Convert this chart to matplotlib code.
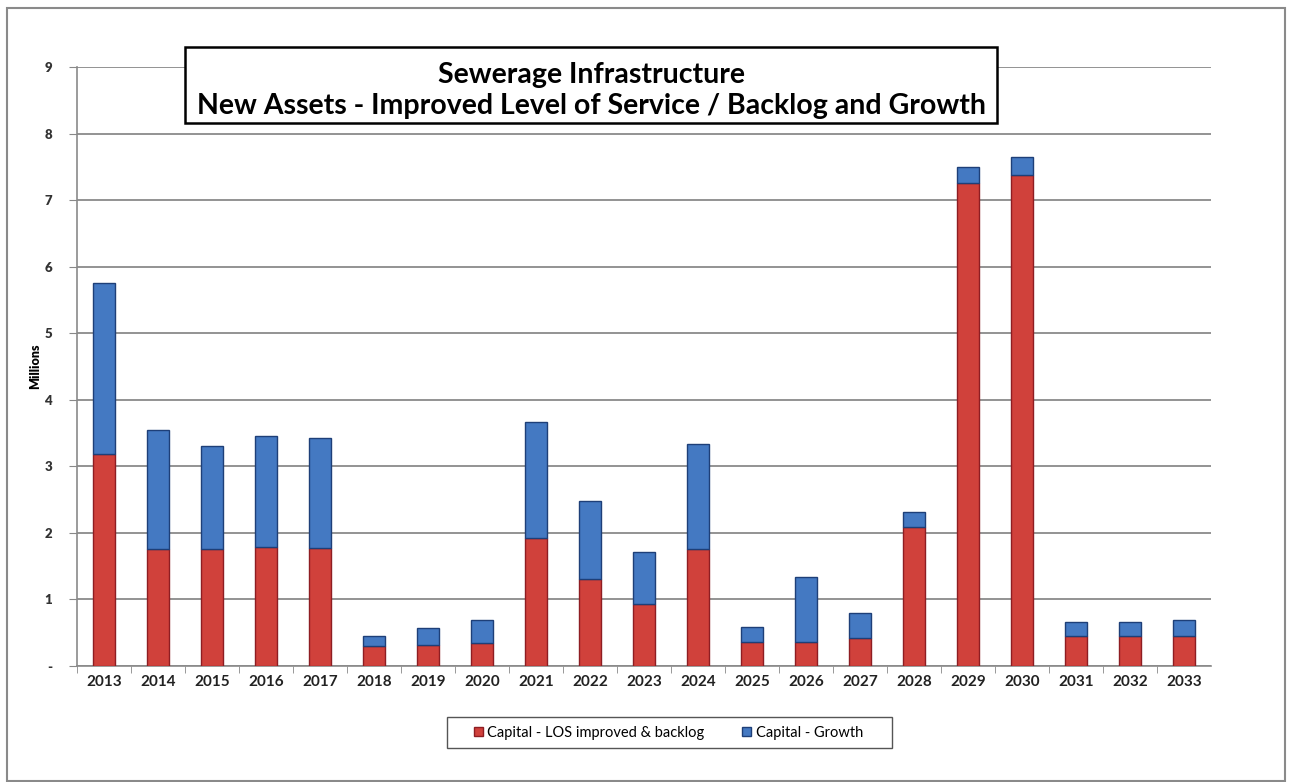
import matplotlib
matplotlib.use("Agg")
import matplotlib.pyplot as plt
from matplotlib.patches import Rectangle

years = ["2013", "2014", "2015", "2016", "2017", "2018", "2019", "2020", "2021", "2022",
         "2023", "2024", "2025", "2026", "2027", "2028", "2029", "2030", "2031", "2032", "2033"]
los_backlog = [3.19, 1.75, 1.75, 1.79, 1.77, 0.30, 0.31, 0.34, 1.92, 1.31,
               0.93, 1.75, 0.36, 0.36, 0.41, 2.09, 7.25, 7.38, 0.44, 0.44, 0.44]
growth = [2.56, 1.79, 1.56, 1.67, 1.65, 0.15, 0.25, 0.34, 1.75, 1.17,
          0.78, 1.58, 0.22, 0.98, 0.38, 0.22, 0.24, 0.27, 0.21, 0.22, 0.25]
y_ticks = [0, 1, 2, 3, 4, 5, 6, 7, 8, 9]
y_tick_labels = ["-", "1", "2", "3", "4", "5", "6", "7", "8", "9"]

title_lines = "Sewerage Infrastructure\nNew Assets - Improved Level of Service / Backlog and Growth"
series_names = ["Capital - LOS improved & backlog", "Capital - Growth"]

RED = "#D0413B"
RED_EDGE = "#8E1D22"
BLUE = "#4479C2"
BLUE_EDGE = "#1E3F78"

plt.rcParams["font.family"] = ["Lato", "DejaVu Sans"]

fig = plt.figure(figsize=(12.89, 7.82), dpi=100)
ax = fig.add_axes([0.0597, 0.1487, 0.8798, 0.7656])

x = list(range(len(years)))
width = 0.40
b1 = ax.bar(x, los_backlog, width, color=RED, edgecolor=RED_EDGE, linewidth=1.0,
            label=series_names[0], zorder=3)
b2 = ax.bar(x, growth, width, bottom=los_backlog, color=BLUE, edgecolor=BLUE_EDGE,
            linewidth=1.0, label=series_names[1], zorder=3)

ax.set_xlim(-0.5, len(years) - 0.5)
ax.set_ylim(0, 9)
ax.set_yticks(y_ticks)
ax.set_yticklabels(y_tick_labels, fontsize=9.5, fontweight="heavy", color="#333333")
ax.set_xticks(x)
ax.set_xticklabels(years, fontsize=11, fontweight="bold", color="#222222")
ax.set_xticks([i + 0.5 for i in x[:-1]] + [-0.5], minor=True)
ax.tick_params(axis="x", which="major", length=0, pad=7)
ax.tick_params(axis="x", which="minor", length=5, color="#888888", direction="out")
ax.tick_params(axis="y", length=6, color="#888888", direction="out", pad=12)

ax.grid(axis="y", color="#8a8a8a", linewidth=1.3, zorder=0)
for side in ("top", "right"):
    ax.spines[side].set_visible(False)
for side in ("left", "bottom"):
    ax.spines[side].set_color("#8a8a8a")
    ax.spines[side].set_linewidth(1.2)

ax.set_ylabel("Millions", fontsize=9, fontweight="heavy", labelpad=2)

# title box
fig.patches.append(Rectangle((0.1435, 0.8427), 0.63, 0.0973, transform=fig.transFigure,
                             facecolor="white", edgecolor="black", linewidth=1.8, zorder=5))
fig.text(0.4585, 0.8848, title_lines, ha="center", va="center", fontsize=20.5,
         fontweight="bold", linespacing=1.24, zorder=6)

# legend with its own frame
fig.patches.append(Rectangle((447 / 1289, 1 - 748 / 782), 445 / 1289, 31 / 782,
                             transform=fig.transFigure, facecolor="white",
                             edgecolor="#555555", linewidth=1.0))
leg = fig.legend(handles=[b1, b2], labels=series_names, loc="center",
                 bbox_to_anchor=(0.5186, 0.0627), ncol=2, fontsize=10.5,
                 frameon=False, handlelength=0.6, handleheight=0.6, handletextpad=0.3,
                 columnspacing=2.6)

# outer chart frame
fig.patches.append(Rectangle((0.0054, 0.001), 0.9915, 0.9888, transform=fig.transFigure,
                             facecolor="none", edgecolor="#8a8a8a", linewidth=1.5))

fig.savefig("out.png", dpi=100)
